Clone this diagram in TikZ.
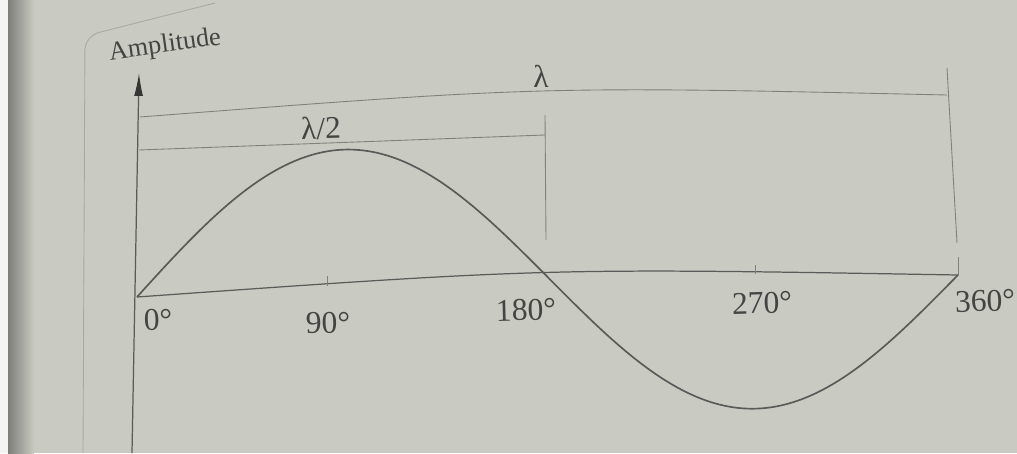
\documentclass[tikz,border=0pt]{standalone}
\usepackage{fontspec}
\setmainfont{Liberation Serif}
\usetikzlibrary{arrows.meta}
\definecolor{paper}{RGB}{201,203,194}
\definecolor{ink}{RGB}{68,68,66}
\definecolor{lineink}{RGB}{90,90,88}
\definecolor{dimink}{RGB}{128,129,124}
\definecolor{frameink}{RGB}{168,169,163}
\begin{document}
\begin{tikzpicture}[x=0.02cm,y=-0.02cm,
  lbl/.style={text=ink, font=\fontsize{18}{20}\selectfont, inner sep=0pt},
  wave/.style={draw=lineink, line width=0.95pt},
  axisline/.style={draw=lineink, line width=0.7pt},
  dimline/.style={draw=dimink, line width=0.5pt},
  tickline/.style={draw=dimink, line width=0.5pt}]
\fill[paper] (0,0) rectangle (1017,453);
\fill[white!80!paper] (0,0) rectangle (8,453);
\shade[left color=black!38!paper, right color=paper] (8,0) rectangle (34,453);
\useasboundingbox (0,0) rectangle (1017,453);
% faint frame of the page box
\draw[frameink, line width=0.5pt, rounded corners=8] (83,453) -- (85,36) -- (215,3);
% vertical axis
\coordinate (ybot) at (132,453);
\coordinate (ytop) at (139,73);
\draw[axisline, -{Latex[length=13pt,width=5pt,color=ink!80!black]}] (ybot) -- (ytop);
% horizontal axis
\coordinate (o) at (137,297);
\coordinate (e) at (958,275);
\draw[axisline] (o) .. controls (547.5,267.9) .. (e);
% sine wave
\draw[wave] plot[domain=0:360,samples=121,smooth] ({137+2.280556*\x},{297+36.27*(\x/360)^2-0.161861*\x-135*sin(\x)});
% ticks
\coordinate (t90a) at (327,285.5); \coordinate (t90b) at (327,276);
\draw[tickline] (t90a) -- (t90b);
\coordinate (t270a) at (755,273.7); \coordinate (t270b) at (755,265);
\draw[tickline] (t270a) -- (t270b);
\coordinate (t360b) at (958,257);
\draw[tickline] (e) -- (t360b);
% lambda/2 dimension
\coordinate (h0) at (139,150); \coordinate (h1) at (545,135);
\coordinate (hv0) at (545,115); \coordinate (hv1) at (546,240);
\draw[dimline] (h0) -- (h1);
\draw[dimline] (hv0) -- (hv1);
% lambda dimension
\coordinate (l0) at (140,117); \coordinate (l1) at (947,95);
\coordinate (lv0) at (947,68); \coordinate (lv1) at (957,243);
\draw[dimline] (l0) .. controls (542,86) .. (l1);
\draw[dimline] (lv0) -- (lv1);
% labels
\node[lbl, font=\fontsize{15}{17}\selectfont, rotate=8] (amp) at (165,46) {Amplitude};
\node[lbl] (lam) at (541,76) {λ};
\node[lbl, rotate=1.5] (half) at (321,128) {λ/2};
\node[lbl, rotate=1.5] (d0) at (158,320) {0°};
\node[lbl, rotate=1.5] (d90) at (328,323) {90°};
\node[lbl, rotate=1.5] (d180) at (526,310) {180°};
\node[lbl, rotate=1.5] (d270) at (762,303) {270°};
\node[lbl, rotate=1.5] (d360) at (985,301) {360°};
\end{tikzpicture}
\end{document}
